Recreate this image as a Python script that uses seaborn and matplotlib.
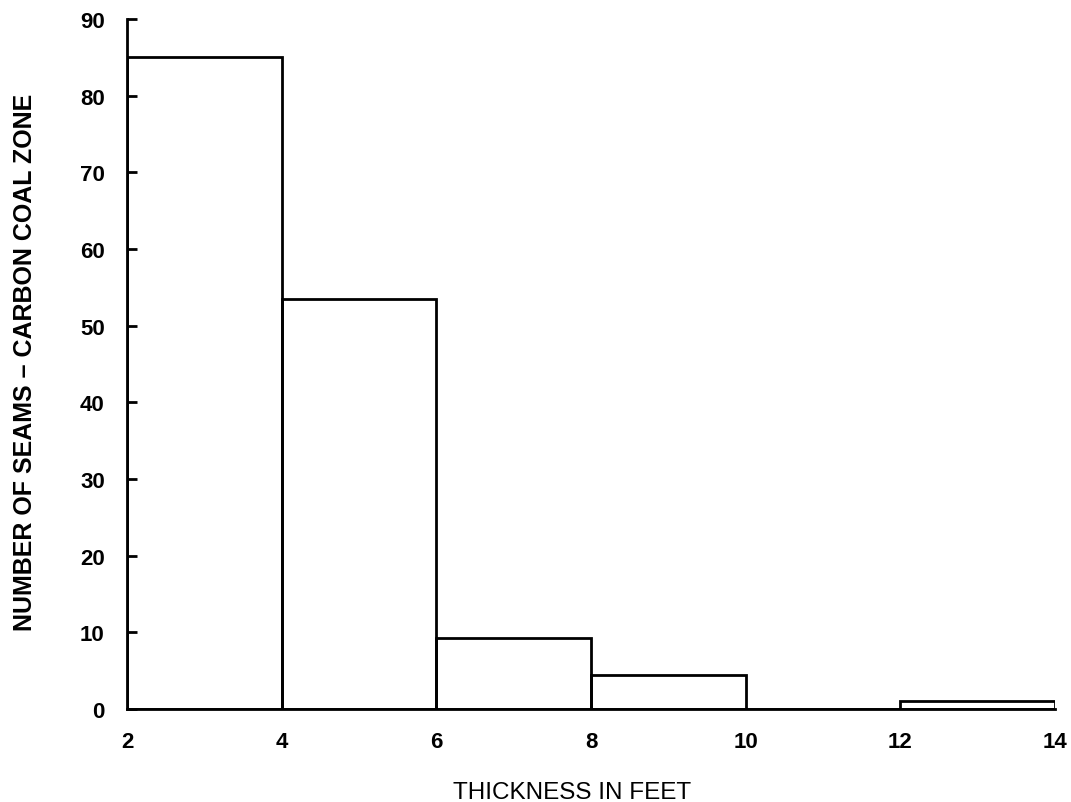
import matplotlib
matplotlib.use("Agg")
import matplotlib.pyplot as plt
import seaborn as sns
import numpy as np

bin_edges = [2, 4, 6, 8, 10, 12, 14]
bin_centers = [3, 5, 7, 9, 11, 13]
seam_counts = [85, 53.5, 9.3, 4.5, 0, 1]
x_ticks = [2, 4, 6, 8, 10, 12, 14]
y_ticks = [0, 10, 20, 30, 40, 50, 60, 70, 80, 90]

sns.set_style("ticks")
plt.rcParams['font.family'] = ['Liberation Sans', 'DejaVu Sans']
plt.rcParams['text.color'] = 'black'
plt.rcParams['axes.labelcolor'] = 'black'
plt.rcParams['xtick.color'] = 'black'
plt.rcParams['ytick.color'] = 'black'
plt.rcParams['axes.edgecolor'] = 'black'

fig = plt.figure(figsize=(10.71, 8.03), dpi=100)
ax = fig.add_axes([0.1186, 0.1158, 0.8664, 0.8592])

sns.histplot(x=bin_centers, weights=seam_counts, bins=bin_edges, fill=False,
             color="black", linewidth=2.0, element="bars", ax=ax)

ax.set_xlim(2, 14)
ax.set_ylim(0, 90)
ax.set_xticks(x_ticks)
ax.set_yticks(y_ticks)
ax.tick_params(axis='x', length=0, pad=16, labelsize=16)
ax.tick_params(axis='y', direction='in', length=7, width=2, pad=16, labelsize=16)
for lab in ax.get_xticklabels() + ax.get_yticklabels():
    lab.set_fontweight('bold')

ax.spines['top'].set_visible(False)
ax.spines['right'].set_visible(False)
ax.spines['left'].set_linewidth(2.0)
ax.spines['bottom'].set_linewidth(2.0)

ax.set_xlabel("THICKNESS IN FEET", fontsize=17.5)
ax.xaxis.set_label_coords(0.48, -0.104)
ax.set_ylabel("NUMBER OF SEAMS – CARBON COAL ZONE", fontsize=18, fontweight='bold')
ax.yaxis.set_label_coords(-0.097, 0.504)

fig.savefig("out.png", dpi=100, facecolor="white")
